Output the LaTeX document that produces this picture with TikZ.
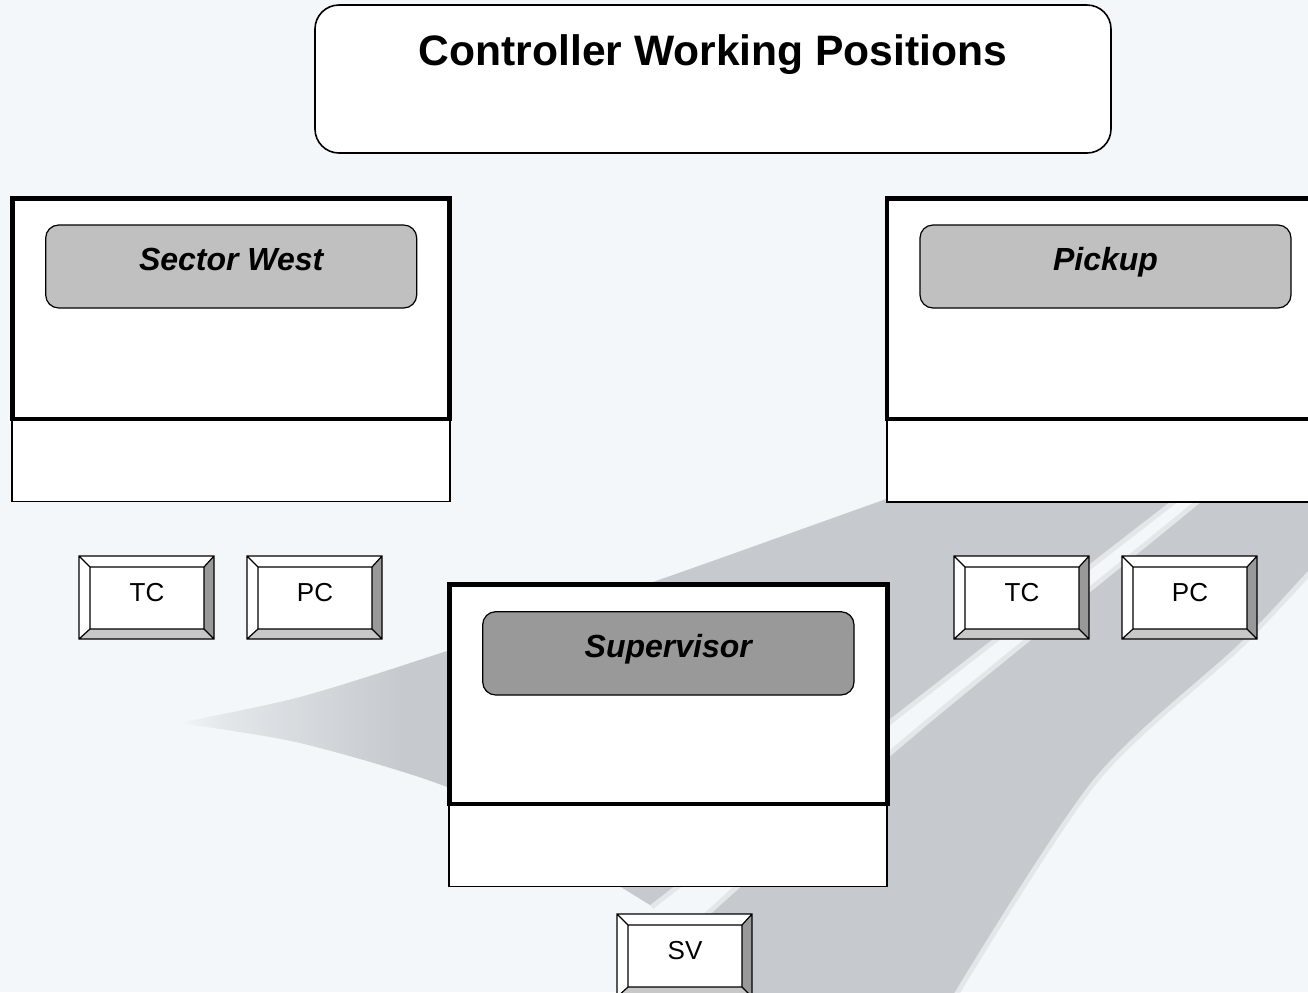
\documentclass[tikz,border=0pt]{standalone}
\usepackage{fontspec}
\setmainfont{Liberation Sans}
\definecolor{paper}{HTML}{F3F7FA}
\definecolor{swoosh}{HTML}{C6CACE}
\colorlet{swooshpale}{swoosh!35!paper}
\definecolor{tagfill}{HTML}{C0C0C0}
\definecolor{tagdark}{HTML}{999999}
\definecolor{keyshade}{HTML}{999999}
\definecolor{keylight}{HTML}{C8C8C8}
% wing fades in from its left tip
\pgfdeclarehorizontalshading{wingfade}{100bp}{color(0bp)=(paper); color(25bp)=(paper); color(27bp)=(swooshpale); color(35bp)=(swoosh); color(100bp)=(swoosh)}

% one bevelled key: #1,#2 top-left corner, #3 node name, #4 label
\newcommand\drawkey[4]{%
  \begin{scope}[shift={(#1,#2)}]
    \fill[white] (0,0) rectangle (135,83);
    \fill[keyshade] (135,0) -- (135,83) -- (125,73) -- (125,11) -- cycle;
    \fill[keylight] (0,83) -- (135,83) -- (125,73) -- (11,73) -- cycle;
    \draw[keyline] (0,0) rectangle (135,83) (11,11) rectangle (125,73)
      (0,0) -- (11,11) (135,0) -- (125,11) (135,83) -- (125,73) (0,83) -- (11,73);
    \node[keytext] (#3) at (68,45.7) {#4};
  \end{scope}}

\begin{document}
\begin{tikzpicture}[x=0.5pt,y=-0.5pt,
  screen/.style={draw=black, line width=2.3pt},
  tray/.style={draw=black, line width=0.65pt, fill=white},
  tag/.style={draw=black, line width=0.6pt, rounded corners=6.5pt},
  tagtext/.style={font=\bfseries\itshape\fontsize{16}{19}\selectfont, anchor=base, inner sep=0pt},
  keyline/.style={draw=black, line width=0.6pt},
  keytext/.style={font=\fontsize{13}{15.6}\selectfont, anchor=base, inner sep=0pt},
  titletext/.style={font=\bfseries\fontsize{21.3}{25}\selectfont, anchor=base, inner sep=0pt},
  softedge/.style={draw=swoosh, draw opacity=0.35, line width=5pt, line join=round}]
\useasboundingbox (0,0) rectangle (1308,992);
\clip (0,0) rectangle (1308,992);
\fill[paper] (0,0) rectangle (1308,992);

% diagonal band on the right, with a soft rim
\def\bandpath{plot[smooth] coordinates {(1318,400) (1200,503) (925,727) (712,913) (630,1000)}
  -- (950,1000)
  -- plot[smooth] coordinates {(950,1000) (1093,780) (1243,640) (1340,535)}
  -- (1340,400) -- cycle}
\path[softedge] \bandpath;
\fill[swoosh] \bandpath;

% swept wing behind the consoles
\path[softedge] (1301,400) -- (650,905);
\shade[shading=wingfade]
  plot[smooth] coordinates {(177,723) (300,697) (447,651) (650,583) (875,503) (1000,459)}
  -- (1000,400) -- (1301,400) -- (650,905)
  -- plot[smooth] coordinates {(650,905) (540,838) (447,787) (300,743) (177,723)} -- cycle;

% heading
\draw[line width=0.8pt, fill=white, rounded corners=12pt] (315,5) rectangle (1111,153);
\node[titletext] (title) at (713,65) {Controller Working Positions};

% Sector West console
\draw[tray] (12,419) rectangle (450,501.5);
\draw[screen, fill=white] (12.5,198.5) rectangle (449.5,419);
\draw[tag, fill=tagfill] (45.7,225) rectangle (416.7,308);
\node[tagtext] (westname) at (231.2,270) {Sector West};

% Pickup console
\draw[tray] (887,419) rectangle (1325,502);
\draw[screen, fill=white] (887,198.5) rectangle (1324,419);
\draw[tag, fill=tagfill] (920,225) rectangle (1291,308);
\node[tagtext] (pickupname) at (1105.5,270) {Pickup};

% Supervisor console
\draw[tray] (449,804) rectangle (887,886.7);
\draw[screen, fill=white] (449.5,584.5) rectangle (887.5,804);
\draw[tag, fill=tagdark] (482.7,611.7) rectangle (854,695);
\node[tagtext] (supname) at (668.3,657) {Supervisor};

% keys
\drawkey{79}{556}{westtc}{TC}
\drawkey{247}{556}{westpc}{PC}
\drawkey{954}{556}{pickuptc}{TC}
\drawkey{1122}{556}{pickuppc}{PC}
\drawkey{617}{914}{supsv}{SV}
\end{tikzpicture}
\end{document}
